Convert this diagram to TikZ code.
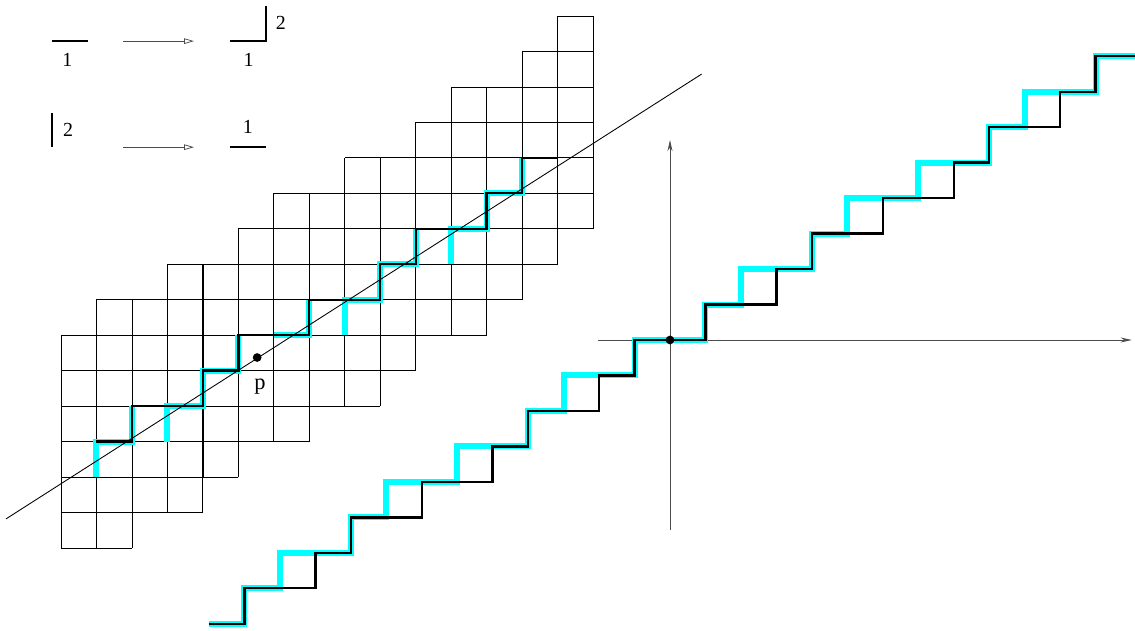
\documentclass[tikz,border=0pt]{standalone}
\usepackage{fontspec}
\setmainfont{Liberation Serif}
\usepackage{xcolor}
\usetikzlibrary{arrows.meta}

\definecolor{pathcyan}{RGB}{0,255,255}

\begin{document}
\begin{tikzpicture}[
  x=1cm, y=1cm,
  font=\fontsize{16}{19}\selectfont,
  cell/.style={line width=0.6pt},
  stairs/.style={line width=1.9pt, miter limit=4},
  imagepath/.style={draw=pathcyan, line width=4.8pt},
  slope/.style={line width=0.7pt},
  axis/.style={line width=0.7pt, draw=black!70, -{Stealth[length=9pt,width=4pt]}},
  legendarrow/.style={line width=0.6pt, draw=black!70, -{Triangle[open,length=8pt,width=4.5pt]}},
  dot/.style={circle, fill=black, inner sep=0pt, minimum size=7pt},
  lab/.style={inner sep=0pt}
]
\useasboundingbox (-1.72,-2.34) rectangle (30.28,15.45);

% legend
\coordinate (a1s) at (1.75,14.29);
\coordinate (a1e) at (3.75,14.29);
\coordinate (a2s) at (1.75,11.30);
\coordinate (a2e) at (3.75,11.30);
\draw[stairs] (-0.25,14.29) -- (0.76,14.29);
\node[lab] (h1) at (0.18,13.77) {1};
\draw[legendarrow] (a1s) -- (a1e);
\draw[stairs] (4.76,14.29) -- (5.78,14.29) -- (5.78,15.29);
\node[lab] (hh1) at (5.29,13.77) {1};
\node[lab] (hv2) at (6.20,14.80) {2};
\draw[stairs] (-0.25,11.30) -- (-0.25,12.26);
\node[lab] (v2) at (0.20,11.78) {2};
\draw[legendarrow] (a2s) -- (a2e);
\draw[stairs] (4.76,11.30) -- (5.78,11.30);
\node[lab] (vh1) at (5.27,11.87) {1};

% lattice band
\foreach \c/\b/\t in {0/0/6, 1/0/7, 2/1/7, 3/1/8, 4/2/8, 5/3/9, 6/3/10, 7/4/10,
                      8/4/11, 9/5/11, 10/6/12, 11/6/13, 12/7/13, 13/8/14, 14/9/15}
  \draw[cell] (\c,\b) grid (\c+1,\t);

% images of the steps
\draw[imagepath] (1,2) -- (1,3) -- (2,3) -- (2,4);
\draw[imagepath] (3,3) -- (3,4) -- (4,4) -- (4,5) -- (5,5) -- (5,6);
\draw[imagepath] (6,6) -- (7,6) -- (7,7);
\draw[imagepath] (8,6) -- (8,7) -- (9,7) -- (9,8) -- (10,8) -- (10,9);
\draw[imagepath] (11,8) -- (11,9) -- (12,9) -- (12,10) -- (13,10) -- (13,11);

\coordinate (ls) at (-1.55,0.82);
\coordinate (le) at (18.06,13.36);
\draw[slope] (ls) -- (le);

\draw[stairs] (1,3) -- (2,3) -- (2,4) -- (4,4) -- (4,5) -- (5,5) -- (5,6) -- (7,6) -- (7,7)
  -- (9,7) -- (9,8) -- (10,8) -- (10,9) -- (12,9) -- (12,10) -- (13,10) -- (13,11) -- (14,11);

\node[dot] (p) at (5.53,5.37) {};
\node[lab, font=\fontsize{18}{21}\selectfont] (plab) at (5.61,4.54) {p};

% right figure
\begin{scope}[shift={(17.17,5.864)}]
\coordinate (xs) at (-2.03,0);
\coordinate (xe) at (13.02,0);
\coordinate (ys) at (0,-5.36);
\coordinate (ye) at (0,5.64);
\draw[axis] (xs) -- (xe);
\draw[axis] (ys) -- (ye);

\draw[imagepath] (-13,-8) -| (-12,-7) -| (-11,-6) -| (-9,-5) -| (-8,-4) -| (-6,-3) -| (-4,-2)
  -| (-3,-1) -| (-1,0) -| (1,1) -| (2,2) -| (4,3) -| (5,4) -| (7,5) -| (9,6) -| (10,7)
  -| (12,8) -- (13.1,8);
\draw[stairs] (-13,-8) -| (-12,-7) -| (-10,-6) -| (-9,-5) -| (-7,-4) -| (-5,-3) -| (-4,-2)
  -| (-2,-1) -| (-1,0) -| (1,1) -| (3,2) -| (4,3) -| (6,4) -| (8,5) -| (9,6) -| (11,7)
  -| (12,8) -- (13.1,8);

\node[dot] (o) at (0,0) {};
\end{scope}
\end{tikzpicture}
\end{document}
